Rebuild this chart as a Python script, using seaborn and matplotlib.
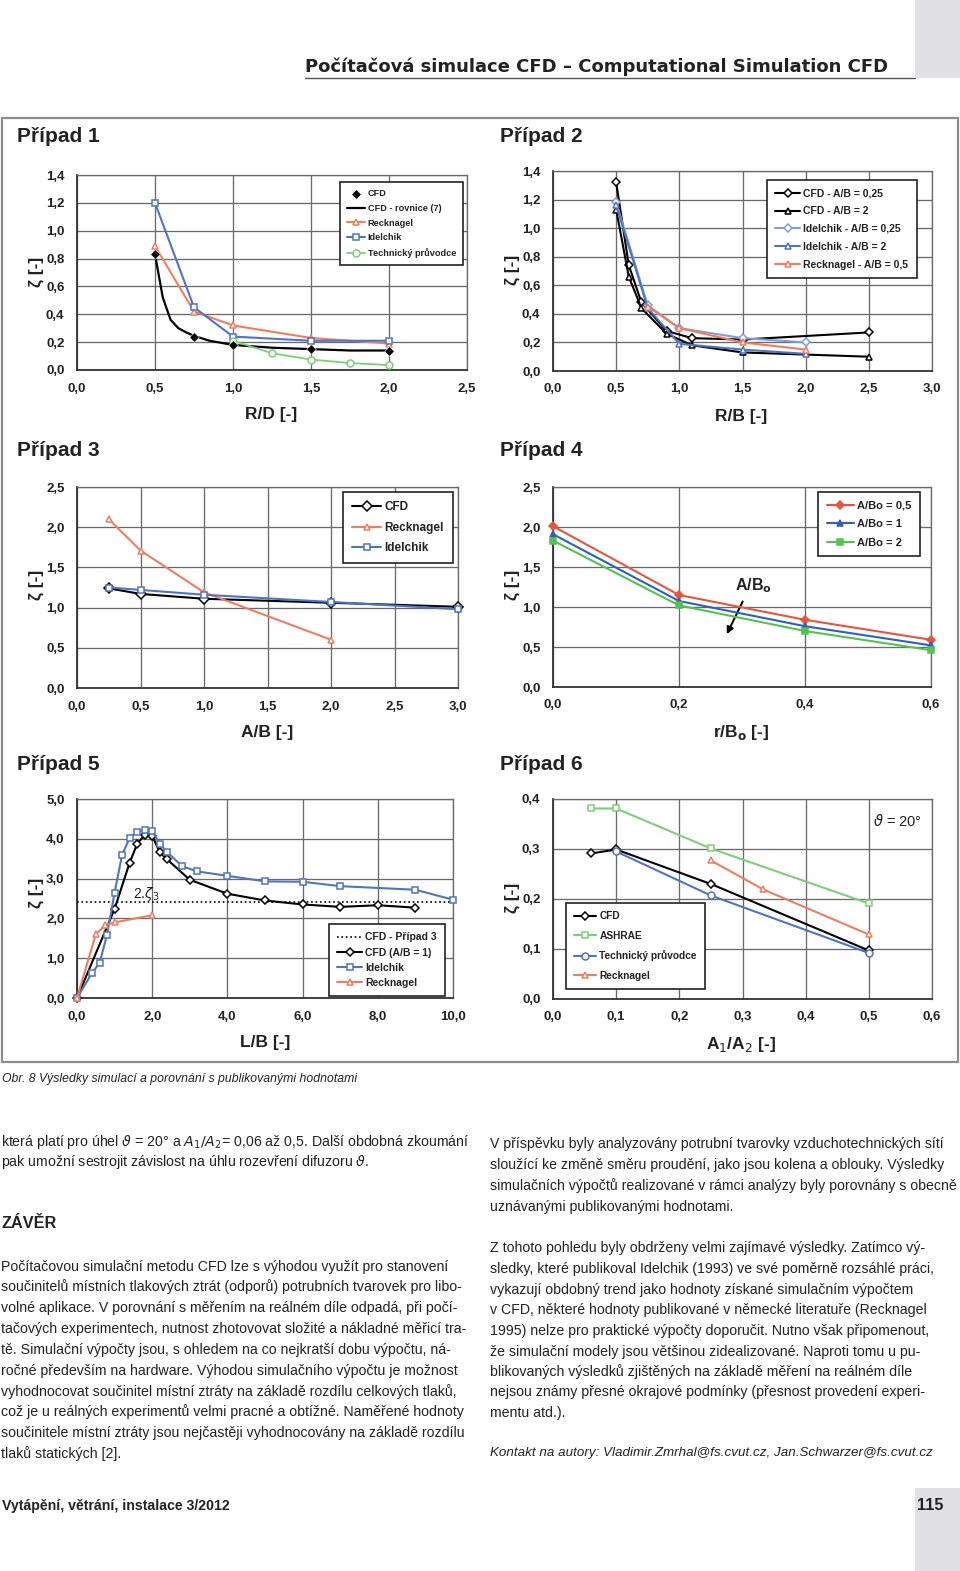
import numpy as np
import pandas as pd
import matplotlib
matplotlib.use("Agg")
import matplotlib.pyplot as plt
import seaborn as sns
from matplotlib import font_manager
from matplotlib.ticker import FuncFormatter, MultipleLocator
from matplotlib.patches import Rectangle

# --- data ---------------------------------------------------------------
# Pripad 1
p1_x_cfd = [0.5, 0.75, 1.0, 1.5, 2.0]
p1_cfd = [0.83, 0.24, 0.18, 0.15, 0.14]
p1_x_eq = [0.5, 0.55, 0.6, 0.65, 0.7, 0.75, 0.85, 1.0, 1.25, 1.5, 1.75, 2.0]
p1_eq = [0.83, 0.52, 0.36, 0.30, 0.27, 0.245, 0.21, 0.18, 0.16, 0.15, 0.14, 0.14]
p1_x_reck = [0.5, 0.75, 1.0, 1.5, 2.0]
p1_reck = [0.89, 0.42, 0.32, 0.23, 0.19]
p1_x_idel = [0.5, 0.75, 1.0, 1.5, 2.0]
p1_idel = [1.20, 0.45, 0.24, 0.21, 0.21]
p1_x_tech = [1.0, 1.25, 1.5, 1.75, 2.0]
p1_tech = [0.21, 0.12, 0.075, 0.05, 0.035]

# Pripad 2
p2_x_cfd025 = [0.5, 0.6, 0.7, 0.9, 1.1, 1.5, 2.5]
p2_cfd025 = [1.32, 0.74, 0.48, 0.28, 0.23, 0.22, 0.27]
p2_x_cfd2 = [0.5, 0.6, 0.7, 0.9, 1.1, 1.5, 2.5]
p2_cfd2 = [1.13, 0.66, 0.44, 0.26, 0.18, 0.13, 0.10]
p2_x_idel025 = [0.5, 0.75, 1.0, 1.5, 2.0]
p2_idel025 = [1.18, 0.46, 0.30, 0.23, 0.20]
p2_x_idel2 = [0.5, 0.75, 1.0, 1.5, 2.0]
p2_idel2 = [1.16, 0.44, 0.19, 0.15, 0.12]
p2_x_reck = [0.75, 1.0, 1.5, 2.0]
p2_reck = [0.45, 0.30, 0.20, 0.15]

# Pripad 3
p3_x = [0.25, 0.5, 1.0, 2.0, 3.0]
p3_cfd = [1.24, 1.17, 1.11, 1.06, 1.01]
p3_idel = [1.25, 1.22, 1.16, 1.07, 0.98]
p3_x_reck = [0.25, 0.5, 1.0, 2.0]
p3_reck = [2.10, 1.71, 1.19, 0.60]

# Pripad 4
p4_x = [0.0, 0.2, 0.4, 0.6]
p4_ab05 = [2.01, 1.15, 0.84, 0.59]
p4_ab1 = [1.91, 1.075, 0.76, 0.52]
p4_ab2 = [1.83, 1.02, 0.70, 0.46]

# Pripad 5
p5_x_case3 = [0.0, 10.0]
p5_case3 = [2.42, 2.42]
p5_x_cfd = [0, 1.0, 1.4, 1.6, 1.8, 2.0, 2.2, 2.4, 3.0, 4.0, 5.0, 6.0, 7.0, 8.0, 9.0]
p5_cfd = [0, 2.24, 3.40, 3.87, 4.10, 4.08, 3.66, 3.48, 2.97, 2.62, 2.45, 2.35, 2.29, 2.33, 2.27]
p5_x_idel = [0, 0.4, 0.6, 0.8, 1.0, 1.2, 1.4, 1.6, 1.8, 2.0, 2.2, 2.4, 2.8, 3.2, 4.0,
             5.0, 6.0, 7.0, 9.0, 10.0]
p5_idel = [0, 0.63, 0.88, 1.59, 2.65, 3.60, 4.02, 4.18, 4.23, 4.19, 3.88, 3.66, 3.31,
           3.18, 3.07, 2.93, 2.92, 2.81, 2.72, 2.47]
p5_x_reck = [0, 0.5, 0.75, 1.0, 2.0]
p5_reck = [0, 1.60, 1.83, 1.90, 2.08]

# Pripad 6
p6_x_cfd = [0.06, 0.1, 0.25, 0.5]
p6_cfd = [0.291, 0.299, 0.230, 0.097]
p6_x_ashrae = [0.06, 0.1, 0.25, 0.5]
p6_ashrae = [0.381, 0.381, 0.301, 0.191]
p6_x_tech = [0.1, 0.25, 0.5]
p6_tech = [0.295, 0.207, 0.092]
p6_x_reck = [0.25, 0.333, 0.5]
p6_reck = [0.277, 0.219, 0.129]

# --- fonts / style --------------------------------------------------------
sns.set_style("white")
names = {f.name for f in font_manager.fontManager.ttflist}
NARROW = "Liberation Sans Narrow" if "Liberation Sans Narrow" in names else "Liberation Sans"
plt.rcParams["font.family"] = [NARROW, "DejaVu Sans"]
plt.rcParams["mathtext.fontset"] = "dejavusans"

RED = "#f07d5f"
BLUE = "#4f74c4"
LBLUE = "#7f9fd8"
GREEN = "#7ccf78"
INK = "#222222"

W, H = 960, 1571
fig = plt.figure(figsize=(W / 100, H / 100), dpi=100)
fig.patch.set_facecolor("white")


def fx(x):
    return x / W


def fy(y):
    return 1 - y / H


def make_axes(x0, y0, x1, y1):
    return fig.add_axes([x0 / W, 1 - y1 / H, (x1 - x0) / W, (y1 - y0) / H])


comma = FuncFormatter(lambda v, p: f"{v:.1f}".replace(".", ","))


def style_axes(ax, xlim, xstep, ylim, ystep):
    ax.set_xlim(*xlim)
    ax.set_ylim(*ylim)
    ax.xaxis.set_major_locator(MultipleLocator(xstep))
    ax.yaxis.set_major_locator(MultipleLocator(ystep))
    ax.xaxis.set_major_formatter(comma)
    ax.yaxis.set_major_formatter(comma)
    ax.grid(True, color="#6a6a6a", lw=0.95)
    ax.set_axisbelow(True)
    for s in ax.spines.values():
        s.set_color("#6a6a6a")
        s.set_linewidth(0.95)
    for s in ("left", "bottom"):
        ax.spines[s].set_color("#333333")
        ax.spines[s].set_linewidth(1.3)
    ax.tick_params(direction="out", length=4, width=1.1, color="#333333",
                   labelsize=9.5, labelcolor=INK, pad=5)
    plt.setp(ax.get_xticklabels() + ax.get_yticklabels(), fontweight="bold")
    ax.set_xlabel("")
    ax.set_ylabel("")


def series(ax, x, y, label, color, marker, mfc="white", ms=5, lw=1.5, ls="-"):
    sns.lineplot(x=x, y=y, ax=ax, label=label, color=color, marker=marker,
                 markerfacecolor=mfc, markeredgecolor=color, markersize=ms,
                 markeredgewidth=1.1, linewidth=lw, linestyle=ls,
                 estimator=None, sort=False, clip_on=False, zorder=4)


def legend(ax, x, y, fs, spacing, hl=2.4):
    lg = ax.legend(loc="upper left", bbox_to_anchor=(fx(x), fy(y)),
                   bbox_transform=fig.transFigure, frameon=True, fancybox=False,
                   edgecolor="#222222", facecolor="white", framealpha=1,
                   prop={"size": fs, "weight": "bold"}, labelspacing=spacing,
                   handlelength=hl, handletextpad=0.3, borderpad=0.8,
                   borderaxespad=0)
    lg.get_frame().set_linewidth(1.2)
    for t in lg.get_texts():
        t.set_color(INK)


def labels(title, tx, ty, xlabel, xx, xy, yx, yy):
    fig.text(fx(tx), fy(ty), title, fontsize=15, fontweight="bold", color=INK,
             ha="left", va="center")
    fig.text(fx(xx), fy(xy), xlabel, fontsize=12.5, fontweight="bold", color=INK,
             ha="center", va="center")
    fig.text(fx(yx), fy(yy), "ζ [-]", fontsize=12.5, fontweight="bold", color=INK,
             ha="center", va="center", rotation=90)


# --- Pripad 1 --------------------------------------------------------------
ax1 = make_axes(77, 175, 467, 370)
sns.scatterplot(x=p1_x_cfd, y=p1_cfd, ax=ax1, marker="D", color="black", s=24,
                label="CFD", zorder=6, clip_on=False)
series(ax1, p1_x_eq, p1_eq, "CFD - rovnice (7)", "black", None, lw=1.6)
series(ax1, p1_x_reck, p1_reck, "Recknagel", RED, "^")
series(ax1, p1_x_idel, p1_idel, "Idelchik", BLUE, "s")
series(ax1, p1_x_tech, p1_tech, "Technický průvodce", GREEN, "o", lw=1.3)
style_axes(ax1, (0, 2.5), 0.5, (0, 1.4), 0.2)
legend(ax1, 340, 182, 6.6, 0.62, hl=1.9)
labels("Případ 1", 17, 137, "R/D [-]", 271, 415, 36, 272)

# --- Pripad 2 --------------------------------------------------------------
ax2 = make_axes(553, 171, 932, 371)
series(ax2, p2_x_cfd025, p2_cfd025, "CFD - A/B = 0,25", "black", "D", ms=4.5)
series(ax2, p2_x_cfd2, p2_cfd2, "CFD - A/B = 2", "black", "^")
series(ax2, p2_x_idel025, p2_idel025, "Idelchik - A/B = 0,25", LBLUE, "D", ms=4.5)
series(ax2, p2_x_idel2, p2_idel2, "Idelchik - A/B = 2", BLUE, "^")
series(ax2, p2_x_reck, p2_reck, "Recknagel - A/B = 0,5", RED, "^")
style_axes(ax2, (0, 3.0), 0.5, (0, 1.4), 0.2)
legend(ax2, 767, 180, 7.5, 0.75)
labels("Případ 2", 500, 137, "R/B [-]", 741, 417, 512, 270)

# --- Pripad 3 --------------------------------------------------------------
ax3 = make_axes(77, 487, 458, 688)
series(ax3, p3_x, p3_cfd, "CFD", "black", "D", ms=5)
series(ax3, p3_x_reck, p3_reck, "Recknagel", RED, "^")
series(ax3, p3_x, p3_idel, "Idelchik", BLUE, "s")
style_axes(ax3, (0, 3.0), 0.5, (0, 2.5), 0.5)
legend(ax3, 343, 492, 8.5, 0.7)
labels("Případ 3", 17, 451, "A/B [-]", 267, 733, 36, 585)

# --- Pripad 4 --------------------------------------------------------------
ax4 = make_axes(553, 487, 931, 687)
series(ax4, p4_x, p4_ab05, "A/Bo = 0,5", "#e8553c", "D", mfc="#e8553c", ms=4.5)
series(ax4, p4_x, p4_ab1, "A/Bo = 1", "#2f5fbf", "^", mfc="#2f5fbf", ms=5)
series(ax4, p4_x, p4_ab2, "A/Bo = 2", "#55c150", "s", mfc="#55c150", ms=4.5)
style_axes(ax4, (0, 0.6), 0.2, (0, 2.5), 0.5)
legend(ax4, 818, 492, 8, 0.75)
ax4.annotate("", xy=(0.274, 0.63), xytext=(0.303, 1.10),
             arrowprops=dict(arrowstyle="-|>", color="black", lw=1.4))
ax4.text(0.318, 1.27, "A/B$_\\mathbf{o}$", fontsize=11.5, fontweight="bold",
         color=INK, ha="center", va="center")
labels("Případ 4", 500, 451, "r/B$_\\mathbf{o}$ [-]", 741, 733, 512, 585)

# --- Pripad 5 --------------------------------------------------------------
ax5 = make_axes(77, 799, 453, 998)
series(ax5, p5_x_case3, p5_case3, "CFD - Případ 3", "black", None, lw=1.2, ls=":")
series(ax5, p5_x_cfd, p5_cfd, "CFD (A/B = 1)", "black", "D", ms=4.5)
series(ax5, p5_x_idel, p5_idel, "Idelchik", BLUE, "s", ms=4.5)
series(ax5, p5_x_reck, p5_reck, "Recknagel", RED, "^", ms=4.5)
style_axes(ax5, (0, 10), 2, (0, 5), 1)
legend(ax5, 329, 924, 7.5, 0.5)
ax5.text(1.85, 2.62, "2.$\\zeta_3$", fontsize=10, color=INK, ha="center", va="center")
labels("Případ 5", 17, 765, "L/B [-]", 265, 1043, 36, 893)

# --- Pripad 6 --------------------------------------------------------------
ax6 = make_axes(553, 799, 932, 999)
series(ax6, p6_x_cfd, p6_cfd, "CFD", "black", "D", ms=4.5)
series(ax6, p6_x_ashrae, p6_ashrae, "ASHRAE", GREEN, "s")
series(ax6, p6_x_tech, p6_tech, "Technický průvodce", BLUE, "o")
series(ax6, p6_x_reck, p6_reck, "Recknagel", RED, "^")
style_axes(ax6, (0, 0.6), 0.1, (0, 0.4), 0.1)
legend(ax6, 566, 903, 7.3, 0.95, hl=2.2)
ax6.text(0.545, 0.355, "$\\vartheta$ = 20°", fontsize=10.5, color=INK,
         ha="center", va="center")
labels("Případ 6", 500, 765, "A$_1$/A$_2$ [-]", 741, 1045, 512, 898)

# --- page furniture -------------------------------------------------------
fig.patches.append(Rectangle((fx(2), fy(1062)), fx(956), (1062 - 118) / H,
                             transform=fig.transFigure, fill=False,
                             edgecolor="#8c8c8c", lw=1.6))
fig.patches.append(Rectangle((fx(915), fy(78)), fx(45), 78 / H,
                             transform=fig.transFigure, facecolor="#e1e1e3",
                             edgecolor="none"))
fig.patches.append(Rectangle((fx(915), fy(1571)), fx(45), (1571 - 1488) / H,
                             transform=fig.transFigure, facecolor="#e1e1e3",
                             edgecolor="none"))
fig.lines.append(plt.Line2D([fx(305), fx(915)], [fy(78), fy(78)],
                            transform=fig.transFigure, color="#555555", lw=1))
fig.text(fx(305), fy(67), "Počítačová simulace CFD – Computational Simulation CFD",
         fontsize=13, fontweight="bold", family="DejaVu Sans", color=INK,
         ha="left", va="center")

fig.text(fx(2), fy(1079), "Obr. 8 Výsledky simulací a porovnání s publikovanými hodnotami",
         fontsize=8.8, style="italic", color=INK, ha="left", va="center")

BODY = 12 if NARROW == "Liberation Sans Narrow" else 10.2
left_lines = [
    (1142, "která platí pro úhel $\\vartheta$ = 20° a $A_1/A_2$= 0,06 až 0,5. Další obdobná zkoumání"),
    (1162, "pak umožní sestrojit závislost na úhlu rozevření difuzoru $\\vartheta$."),
    (1267, "Počítačovou simulační metodu CFD lze s výhodou využít pro stanovení"),
    (1287, "součinitelů místních tlakových ztrát (odporů) potrubních tvarovek pro libo-"),
    (1308, "volné aplikace. V porovnání s měřením na reálném díle odpadá, při počí-"),
    (1329, "tačových experimentech, nutnost zhotovovat složité a nákladné měřicí tra-"),
    (1350, "tě. Simulační výpočty jsou, s ohledem na co nejkratší dobu výpočtu, ná-"),
    (1371, "ročné především na hardware. Výhodou simulačního výpočtu je možnost"),
    (1392, "vyhodnocovat součinitel místní ztráty na základě rozdílu celkových tlaků,"),
    (1412, "což je u reálných experimentů velmi pracné a obtížné. Naměřené hodnoty"),
    (1433, "součinitele místní ztráty jsou nejčastěji vyhodnocovány na základě rozdílu"),
    (1454, "tlaků statických [2]."),
]
right_lines = [
    (1144, "V příspěvku byly analyzovány potrubní tvarovky vzduchotechnických sítí"),
    (1165, "sloužící ke změně směru proudění, jako jsou kolena a oblouky. Výsledky"),
    (1186, "simulačních výpočtů realizované v rámci analýzy byly porovnány s obecně"),
    (1207, "uznávanými publikovanými hodnotami."),
    (1248, "Z tohoto pohledu byly obdrženy velmi zajímavé výsledky. Zatímco vý-"),
    (1269, "sledky, které publikoval Idelchik (1993) ve své poměrně rozsáhlé práci,"),
    (1290, "vykazují obdobný trend jako hodnoty získané simulačním výpočtem"),
    (1310, "v CFD, některé hodnoty publikované v německé literatuře (Recknagel"),
    (1331, "1995) nelze pro praktické výpočty doporučit. Nutno však připomenout,"),
    (1352, "že simulační modely jsou většinou zidealizované. Naproti tomu u pu-"),
    (1372, "blikovaných výsledků zjištěných na základě měření na reálném díle"),
    (1392, "nejsou známy přesné okrajové podmínky (přesnost provedení experi-"),
    (1413, "mentu atd.)."),
]
for y, s in left_lines:
    fig.text(fx(1), fy(y), s, fontsize=BODY, color=INK, ha="left", va="center")
for y, s in right_lines:
    fig.text(fx(490), fy(y), s, fontsize=BODY, color=INK, ha="left", va="center")

fig.text(fx(1), fy(1224), "ZÁVĚR", fontsize=BODY + 1.5, fontweight="bold", color=INK,
         ha="left", va="center")
fig.text(fx(490), fy(1453), "Kontakt na autory: Vladimir.Zmrhal@fs.cvut.cz, Jan.Schwarzer@fs.cvut.cz",
         fontsize=BODY - 0.6, style="italic", color=INK, ha="left", va="center")

fig.text(fx(2), fy(1506), "Vytápění, větrání, instalace 3/2012", fontsize=BODY,
         fontweight="bold", color=INK, ha="left", va="center")
fig.text(fx(930), fy(1506), "115", fontsize=BODY + 1.5, fontweight="bold", color=INK,
         ha="center", va="center")

fig.savefig("out.png", dpi=100, facecolor="white")
